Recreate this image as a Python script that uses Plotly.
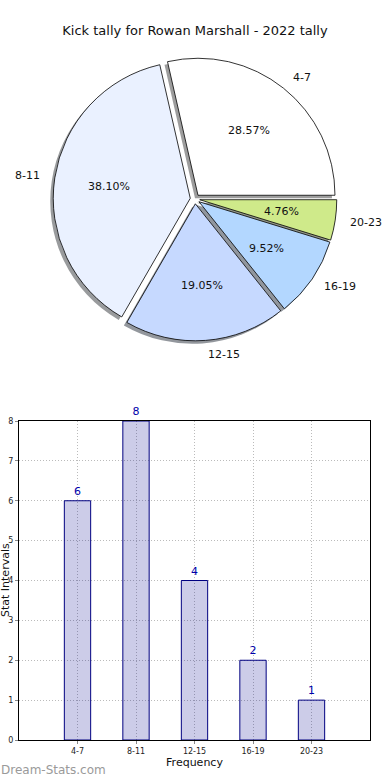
import math
import plotly.graph_objects as go

# ---------------- data ----------------
categories = ["4-7", "8-11", "12-15", "16-19", "20-23"]
counts = [6, 8, 4, 2, 1]
pie_colors = ["#FFFFFF", "#EAF1FF", "#C6D9FF", "#B3D7FF", "#CFEA8A"]
y_ticks = [0, 1, 2, 3, 4, 5, 6, 7, 8]
title_text = "Kick tally for Rowan Marshall - 2022 tally"
x_title = "Frequency"
y_title = "Stat Intervals"
watermark = "Dream-Stats.com"

# ---------------- layout constants ----------------
W, H = 390, 780
FONT = "DejaVu Sans"
PULL = 0.035
CX, CY = 195, 199          # pie centre (px)
R = 137                    # pie radius (px)
BOX = R * (1 + PULL)       # half size of pie domain
SH = 3                     # shadow offset (px)

pie_dom_y = [1 - (CY + BOX) / H, 1 - (CY - BOX) / H]
total = sum(counts)
# plotly: with counterclockwise direction the first slice ENDS at `rotation`;
# make the first slice START at 3 o'clock like matplotlib's default.
rotation = 90 - 360 * counts[0] / total


def shadow_color(hexc):
    r, g, b = (int(hexc[i:i + 2], 16) for i in (1, 3, 5))
    return f"rgba({0.3*r:.0f},{0.3*g:.0f},{0.3*b:.0f},0.55)"


fig = go.Figure()

# shadow pie (offset left / down)
fig.add_trace(go.Pie(
    values=counts, labels=categories, sort=False,
    direction="counterclockwise", rotation=rotation, pull=PULL,
    marker=dict(colors=[shadow_color(c) for c in pie_colors], line=dict(width=0)),
    textinfo="none", hoverinfo="skip", showlegend=False,
    domain=dict(x=[0, 1 - 2 * SH / W],
                y=[pie_dom_y[0] - SH / H, pie_dom_y[1] - SH / H]),
))

# main pie
fig.add_trace(go.Pie(
    values=counts, labels=categories, sort=False,
    direction="counterclockwise", rotation=rotation, pull=PULL,
    marker=dict(colors=pie_colors, line=dict(color="#000000", width=0.8)),
    textinfo="none", showlegend=False,
    domain=dict(x=[0, 1], y=pie_dom_y),
))

# pie labels (percent inside at 0.6 r, category at 1.1 r)
annotations = []
cum = 0
for cat, v in zip(categories, counts):
    mid = math.radians(360 * (cum + v / 2) / total)
    cum += v
    c, s = math.cos(mid), math.sin(mid)
    off = PULL * R
    px = CX + (0.6 * R + off) * c
    py = CY - (0.6 * R + off) * s
    annotations.append(dict(
        x=px / W, y=1 - py / H, xref="paper", yref="paper",
        text=f"{100 * v / total:.2f}%", showarrow=False,
        xanchor="center", yanchor="middle", borderpad=0,
        font=dict(family=FONT, size=11, color="#111111")))
    lx = CX + (1.1 * R + off) * c
    ly = CY - (1.1 * R + off) * s
    annotations.append(dict(
        x=lx / W, y=1 - ly / H, xref="paper", yref="paper",
        text=cat, showarrow=False, borderpad=0,
        xanchor="left" if c > 0 else "right", yanchor="middle",
        font=dict(family=FONT, size=11, color="#111111")))

# bar chart
fig.add_trace(go.Bar(
    x=categories, y=counts, width=0.45,
    marker=dict(color="rgba(0,0,140,0.2)", line=dict(color="#000080", width=1)),
    text=counts, textposition="outside", cliponaxis=False,
    textfont=dict(family=FONT, size=11, color="#0000AA"),
    showlegend=False, hoverinfo="x+y",
    xaxis="x", yaxis="y",
))

annotations.append(dict(
    x=0, y=1 - 770 / H, xref="paper", yref="paper", text=watermark,
    showarrow=False, xanchor="left", yanchor="middle", borderpad=0,
    font=dict(family=FONT, size=12, color="#9a9a9a")))

# y axis title (rotated, at the left edge as in the reference)
annotations.append(dict(
    x=5 / W, y=1 - 580 / H, xref="paper", yref="paper", text=y_title,
    showarrow=False, textangle=-90, xanchor="center", yanchor="middle",
    borderpad=0, font=dict(family=FONT, size=11, color="#111111")))

axis_common = dict(
    showgrid=True, gridcolor="#bbbbbb", griddash="1px,2px", gridwidth=1,
    showline=True, mirror=True, linecolor="#000000", linewidth=1,
    ticks="outside", ticklen=3, tickcolor="#888888",
    tickfont=dict(family=FONT, size=8, color="#222222"),
    zeroline=False, automargin=False,
)

fig.update_layout(
    width=W, height=H,
    margin=dict(l=0, r=0, t=0, b=0),
    paper_bgcolor="white", plot_bgcolor="white",
    title=dict(text=title_text, x=0.5, xanchor="center", xref="paper",
               y=1 - 30 / H, yanchor="middle", yref="container",
               font=dict(family=FONT, size=13, color="#111111")),
    xaxis=dict(domain=[19 / W, 370 / W], type="category",
               range=[-1, 5],
               title=dict(text=x_title, standoff=2,
                          font=dict(family=FONT, size=11, color="#111111")),
               **axis_common),
    yaxis=dict(domain=[40 / H, 359 / H], range=[0, 8],
               tickvals=y_ticks,
               **axis_common),
    annotations=annotations,
    font=dict(family=FONT),
)

# remove the browser's default 8px page margin so the figure sits at (0, 0)
fig.write_html("out.html",
               config={"displayModeBar": False},
               post_script="document.body.style.margin='0px';")
